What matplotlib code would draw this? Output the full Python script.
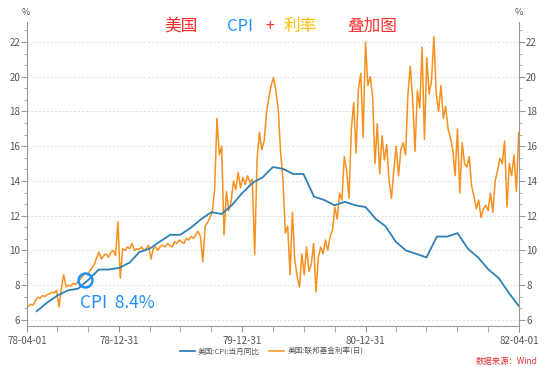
import pandas as pd
import matplotlib
matplotlib.use('Agg')
import matplotlib.pyplot as plt
from matplotlib.ticker import MultipleLocator

plt.rcParams['font.family'] = ['Noto Sans CJK SC', 'DejaVu Sans']

# US CPI YoY (%), month ends 1978-04 .. 1982-03
cpi_vals = [6.5, 7.0, 7.4, 7.7, 7.8, 8.3, 8.9, 8.9, 9.0,
            9.3, 9.9, 10.1, 10.5, 10.9, 10.9, 11.3, 11.8, 12.2, 12.1, 12.6, 13.3,
            13.9, 14.2, 14.8, 14.7, 14.4, 14.4, 13.1, 12.9, 12.6, 12.8, 12.6, 12.5,
            11.8, 11.4, 10.5, 10.0, 9.8, 9.6, 10.8, 10.8, 11.0, 10.1, 9.6, 8.9,
            8.4, 7.6, 6.8]
cpi_dates = pd.date_range('1978-04-30', periods=len(cpi_vals), freq='ME')

# fed funds rate (%), read off the chart roughly once a week
ff_vals = [6.8, 6.9, 6.85, 7.1, 7.3, 7.25, 7.4, 7.35, 7.45, 7.5, 7.6, 7.55,
           7.7, 6.75, 7.8, 8.6, 7.9,
           8.0, 7.95, 8.1, 8.05, 8.2, 8.35, 8.5,
           8.7, 8.6, 8.8, 9.0, 9.2,
           9.6, 9.9, 9.5, 9.7, 9.8, 9.6, 9.9, 10.0, 9.7,
           11.65, 8.4,
           10.1, 10.0, 10.2, 10.1, 10.4, 10.0, 10.1, 10.05, 10.2, 10.0, 10.1, 10.3,
           9.5, 10.1, 10.2, 10.0, 10.25, 10.3, 10.2, 10.4, 10.3, 10.2, 10.5, 10.4,
           10.6, 10.5, 10.4, 10.7, 10.6, 10.8, 10.7,
           10.9, 11.1, 10.8, 9.35, 11.4, 11.6, 11.9, 12.2,
           13.5, 17.6, 15.5, 16.0, 10.9, 13.4, 12.3,
           12.8, 14.0, 13.5, 14.5, 13.6, 14.2, 13.8, 14.3, 13.9, 14.1,
           9.75, 15.2, 16.8, 15.8, 16.3,
           17.9, 18.8, 19.5, 19.95, 19.2, 18.1, 15.6,
           14.1, 11.0, 11.4, 8.6, 12.2, 9.5, 8.5, 7.9, 9.8, 8.6, 10.2, 8.8, 9.2,
           10.4, 7.6, 9.6, 10.2, 9.8, 10.6, 10.0, 10.8,
           11.2, 12.5, 11.8, 13.3, 12.9, 15.4, 14.6, 13.0, 17.0, 18.5, 15.6, 19.3,
           20.2, 16.5, 22.0,
           19.5, 20.0, 18.9, 15.0, 17.3, 14.4, 16.6, 15.2, 16.1, 14.0, 13.0, 14.6,
           16.0, 14.3, 15.8, 16.2, 15.5,
           19.0, 20.6, 18.7, 15.7, 19.2, 18.2, 21.7, 16.4, 21.1, 19.0, 19.8, 22.3,
           19.0, 18.0, 19.5, 17.6,
           18.3, 17.0, 16.5, 15.8, 14.3, 17.0, 13.3, 16.2, 15.0, 14.8, 15.4, 13.7, 13.1,
           12.4, 12.9, 11.9, 12.4, 12.6, 12.3, 13.3, 12.2, 14.0, 14.6, 15.3, 15.0,
           16.3, 12.5, 15.0, 14.3, 15.5, 13.4, 16.8]
ff_dates = pd.date_range('1978-04-05', periods=len(ff_vals), freq='7D')

x_labels = ['78-04-01', '78-12-31', '79-12-31', '80-12-31', '82-04-01']
x_major = pd.to_datetime(['1978-04-01', '1978-12-31', '1979-12-31', '1980-12-31', '1982-04-01'])
x_minor = pd.date_range('1978-06-30', '1982-03-31', freq='QE')

blue = '#2f80b5'
orange = '#f7901e'
gray = '#999999'

fig = plt.figure(figsize=(5.54, 3.67), dpi=100)
ax = fig.add_axes([0.0487, 0.1117, 0.8883, 0.8283])

ax.plot(cpi_dates, cpi_vals, color=blue, lw=1.3, label='美国:CPI:当月同比', zorder=3)
ax.plot(ff_dates, ff_vals, color=orange, lw=1.1, label='美国:联邦基金利率(日)', zorder=2)

ax.set_xlim(pd.Timestamp('1978-04-01'), pd.Timestamp('1982-04-01'))
ax.set_ylim(5.65, 23.15)

ax.yaxis.set_major_locator(MultipleLocator(2))
ax.yaxis.set_minor_locator(MultipleLocator(2 / 3))
ax.set_xticks(x_major)
ax.set_xticklabels(x_labels)
ax.set_xticks(x_minor, minor=True)

ax.tick_params(axis='both', which='both', colors=gray, labelcolor='#555555',
               labelsize=7, direction='out')
ax.tick_params(axis='y', which='both', left=True, right=True, labelleft=True, labelright=True)
ax.tick_params(axis='y', which='major', length=4, pad=1)
ax.tick_params(axis='y', which='minor', length=2.5)
ax.tick_params(axis='x', which='both', length=4, pad=3)

for side in ['left', 'right', 'bottom']:
    ax.spines[side].set_color(gray)
    ax.spines[side].set_linewidth(0.8)
ax.spines['top'].set_visible(False)

ax.grid(axis='y', which='major', color='#dddddd', ls=(0, (2, 2)), lw=0.7)

fig.text(0.047, 0.965, '%', fontsize=6.5, color='#555555', ha='center', va='center')
fig.text(0.937, 0.965, '%', fontsize=6.5, color='#555555', ha='center', va='center')

# title, coloured by parts
ty = 0.928
fig.text(181 / 554, ty, '美国', fontsize=12, color='#ff2a2a', ha='center', va='center')
fig.text(240 / 554, ty, 'CPI', fontsize=12, color='#1e90ff', ha='center', va='center')
fig.text(270 / 554, ty, '+', fontsize=11, color='#ff2a2a', ha='center', va='center')
fig.text(300 / 554, ty, '利率', fontsize=12, color='#ffbe00', ha='center', va='center')
fig.text(372 / 554, ty, '叠加图', fontsize=12, color='#ff3030', ha='center', va='center')

# annotation
ax.plot([pd.Timestamp('1978-09-20')], [8.28], marker='o', ms=10, mfc='none',
        mec='#1e90ff', mew=1.8, zorder=5)
ax.text(pd.Timestamp('1978-09-04'), 6.95, 'CPI  8.4%', fontsize=12.5,
        color='#1e90ff', ha='left', va='center')

leg = fig.legend(loc='center', bbox_to_anchor=(0.49, 0.041), ncol=2, frameon=False,
                 fontsize=5.5, handlelength=2.0, handletextpad=0.4, columnspacing=1.2)
for t in leg.get_texts():
    t.set_color('#555555')

fig.text(0.97, 0.014, '数据来源：Wind', fontsize=6, color='#e03030', ha='right', va='center')

fig.savefig('out.png', dpi=100)
